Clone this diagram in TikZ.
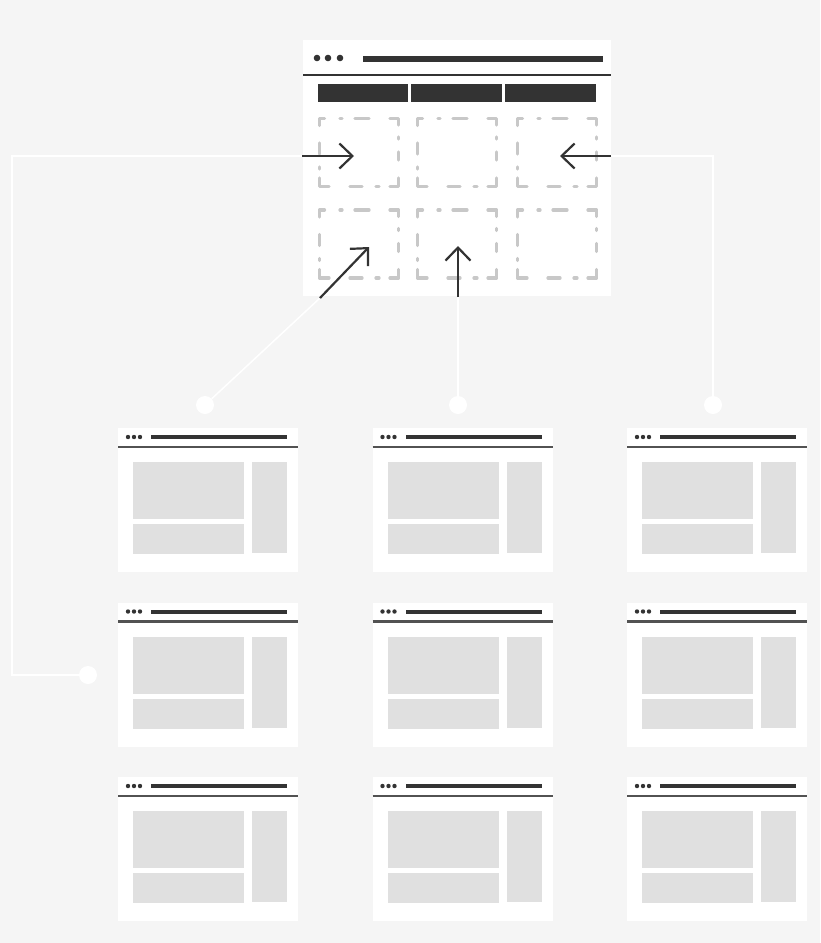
\documentclass[tikz,border=0pt]{standalone}
\usetikzlibrary{arrows.meta}
\definecolor{bg}{HTML}{F5F5F5}
\definecolor{ink}{HTML}{333333}
\definecolor{dashc}{HTML}{C8C8C8}
\definecolor{blockc}{HTML}{E0E0E0}
\newcommand\slotbox[2]{%
  \begin{scope}[shift={(#1,#2)}]
   \draw[slot] (0,7) -- (0,0) -- (5,0);
   \draw[slot] (20.5,0) -- (22.5,0);
   \draw[slot] (35.5,0) -- (49.5,0);
   \draw[slot] (70.5,0) -- (79,0) -- (79,6.5);
   \draw[slot] (79,18.5) -- (79,20.5);
   \draw[slot] (79,33.5) -- (79,41.5);
   \draw[slot] (79,59.5) -- (79,68) -- (70.5,68);
   \draw[slot] (59.5,68) -- (56.5,68);
   \draw[slot] (42.5,68) -- (30.5,68);
   \draw[slot] (9.5,68) -- (0,68) -- (0,59.5);
   \draw[slot] (0,50.5) -- (0,48.5);
   \draw[slot] (0,35.5) -- (0,24.5);
  \end{scope}}
\begin{document}
\begin{tikzpicture}[x=1pt,y=-1pt,
  win/.style={fill=white,draw=none},
  darkbar/.style={fill=ink,draw=none},
  slot/.style={draw=dashc,line width=3.2pt,line cap=round,line join=round},
  block/.style={fill=blockc,draw=none},
  wire/.style={draw=white,line width=1.5pt},
  dot/.style={circle,fill=white,draw=none,minimum size=18pt,inner sep=0pt},
  pointer/.style={draw=ink,line width=2.2pt,-{Straight Barb[length=13pt,width=25pt,line width=2.2pt]}}
]
\fill[bg] (0,0) rectangle (820,943);
\useasboundingbox (0,0) rectangle (820,943);

% main window
\fill[win] (303,40) rectangle (611,296);
\foreach \cx in {317,328,340} \fill[ink] (\cx,58) circle (3.3pt);
\fill[ink] (363,56) rectangle (603,62);
\draw[ink,line width=2pt] (303,75) -- (611,75);
\fill[darkbar] (318,84) rectangle (408,102);
\fill[darkbar] (411,84) rectangle (502,102);
\fill[darkbar] (505,84) rectangle (596,102);
\foreach \sx in {319.5,417.5,517.5}{
  \slotbox{\sx}{118.5}
  \slotbox{\sx}{210}
}

% small windows
\foreach \ox in {0,254.5,509}{
 \foreach \oy in {0,174.5,349}{
  \begin{scope}[shift={(\ox,\oy)}]
   \fill[win] (118,428) rectangle (298,572);
   \foreach \cx in {128,134,140} \fill[ink] (\cx,437) circle (2.2pt);
   \fill[ink] (151,435.3) rectangle (287,439.2);
   \draw[ink!85,line width=2.2pt] (118,447) -- (298,447);
   \fill[block] (133,462) rectangle (244,519);
   \fill[block] (133,524) rectangle (244,554);
   \fill[block] (252,462) rectangle (287,553);
  \end{scope}
 }
}

% connector endpoints
\node[dot] (dA) at (205,405) {};
\node[dot] (dB) at (458,405) {};
\node[dot] (dC) at (713,405) {};
\node[dot] (dD) at (88,675) {};
\coordinate (lA) at (320,298);
\coordinate (tA) at (369,247);
\coordinate (lB) at (458,297);
\coordinate (tB) at (458,246);
\coordinate (lC) at (611,156);
\coordinate (tC) at (560,156);
\coordinate (lD) at (302,156);
\coordinate (tD) at (354,156);

% white wires
\draw[wire] (dA) -- (lA);
\draw[wire] (dB) -- (lB);
\draw[wire] (dC) |- (lC);
\draw[wire] (dD) -| (12,156) -- (lD);

% dark pointers
\draw[pointer] (lA) -- (tA);
\draw[pointer] (lB) -- (tB);
\draw[pointer] (lC) -- (tC);
\draw[pointer] (lD) -- (tD);
\end{tikzpicture}
\end{document}
